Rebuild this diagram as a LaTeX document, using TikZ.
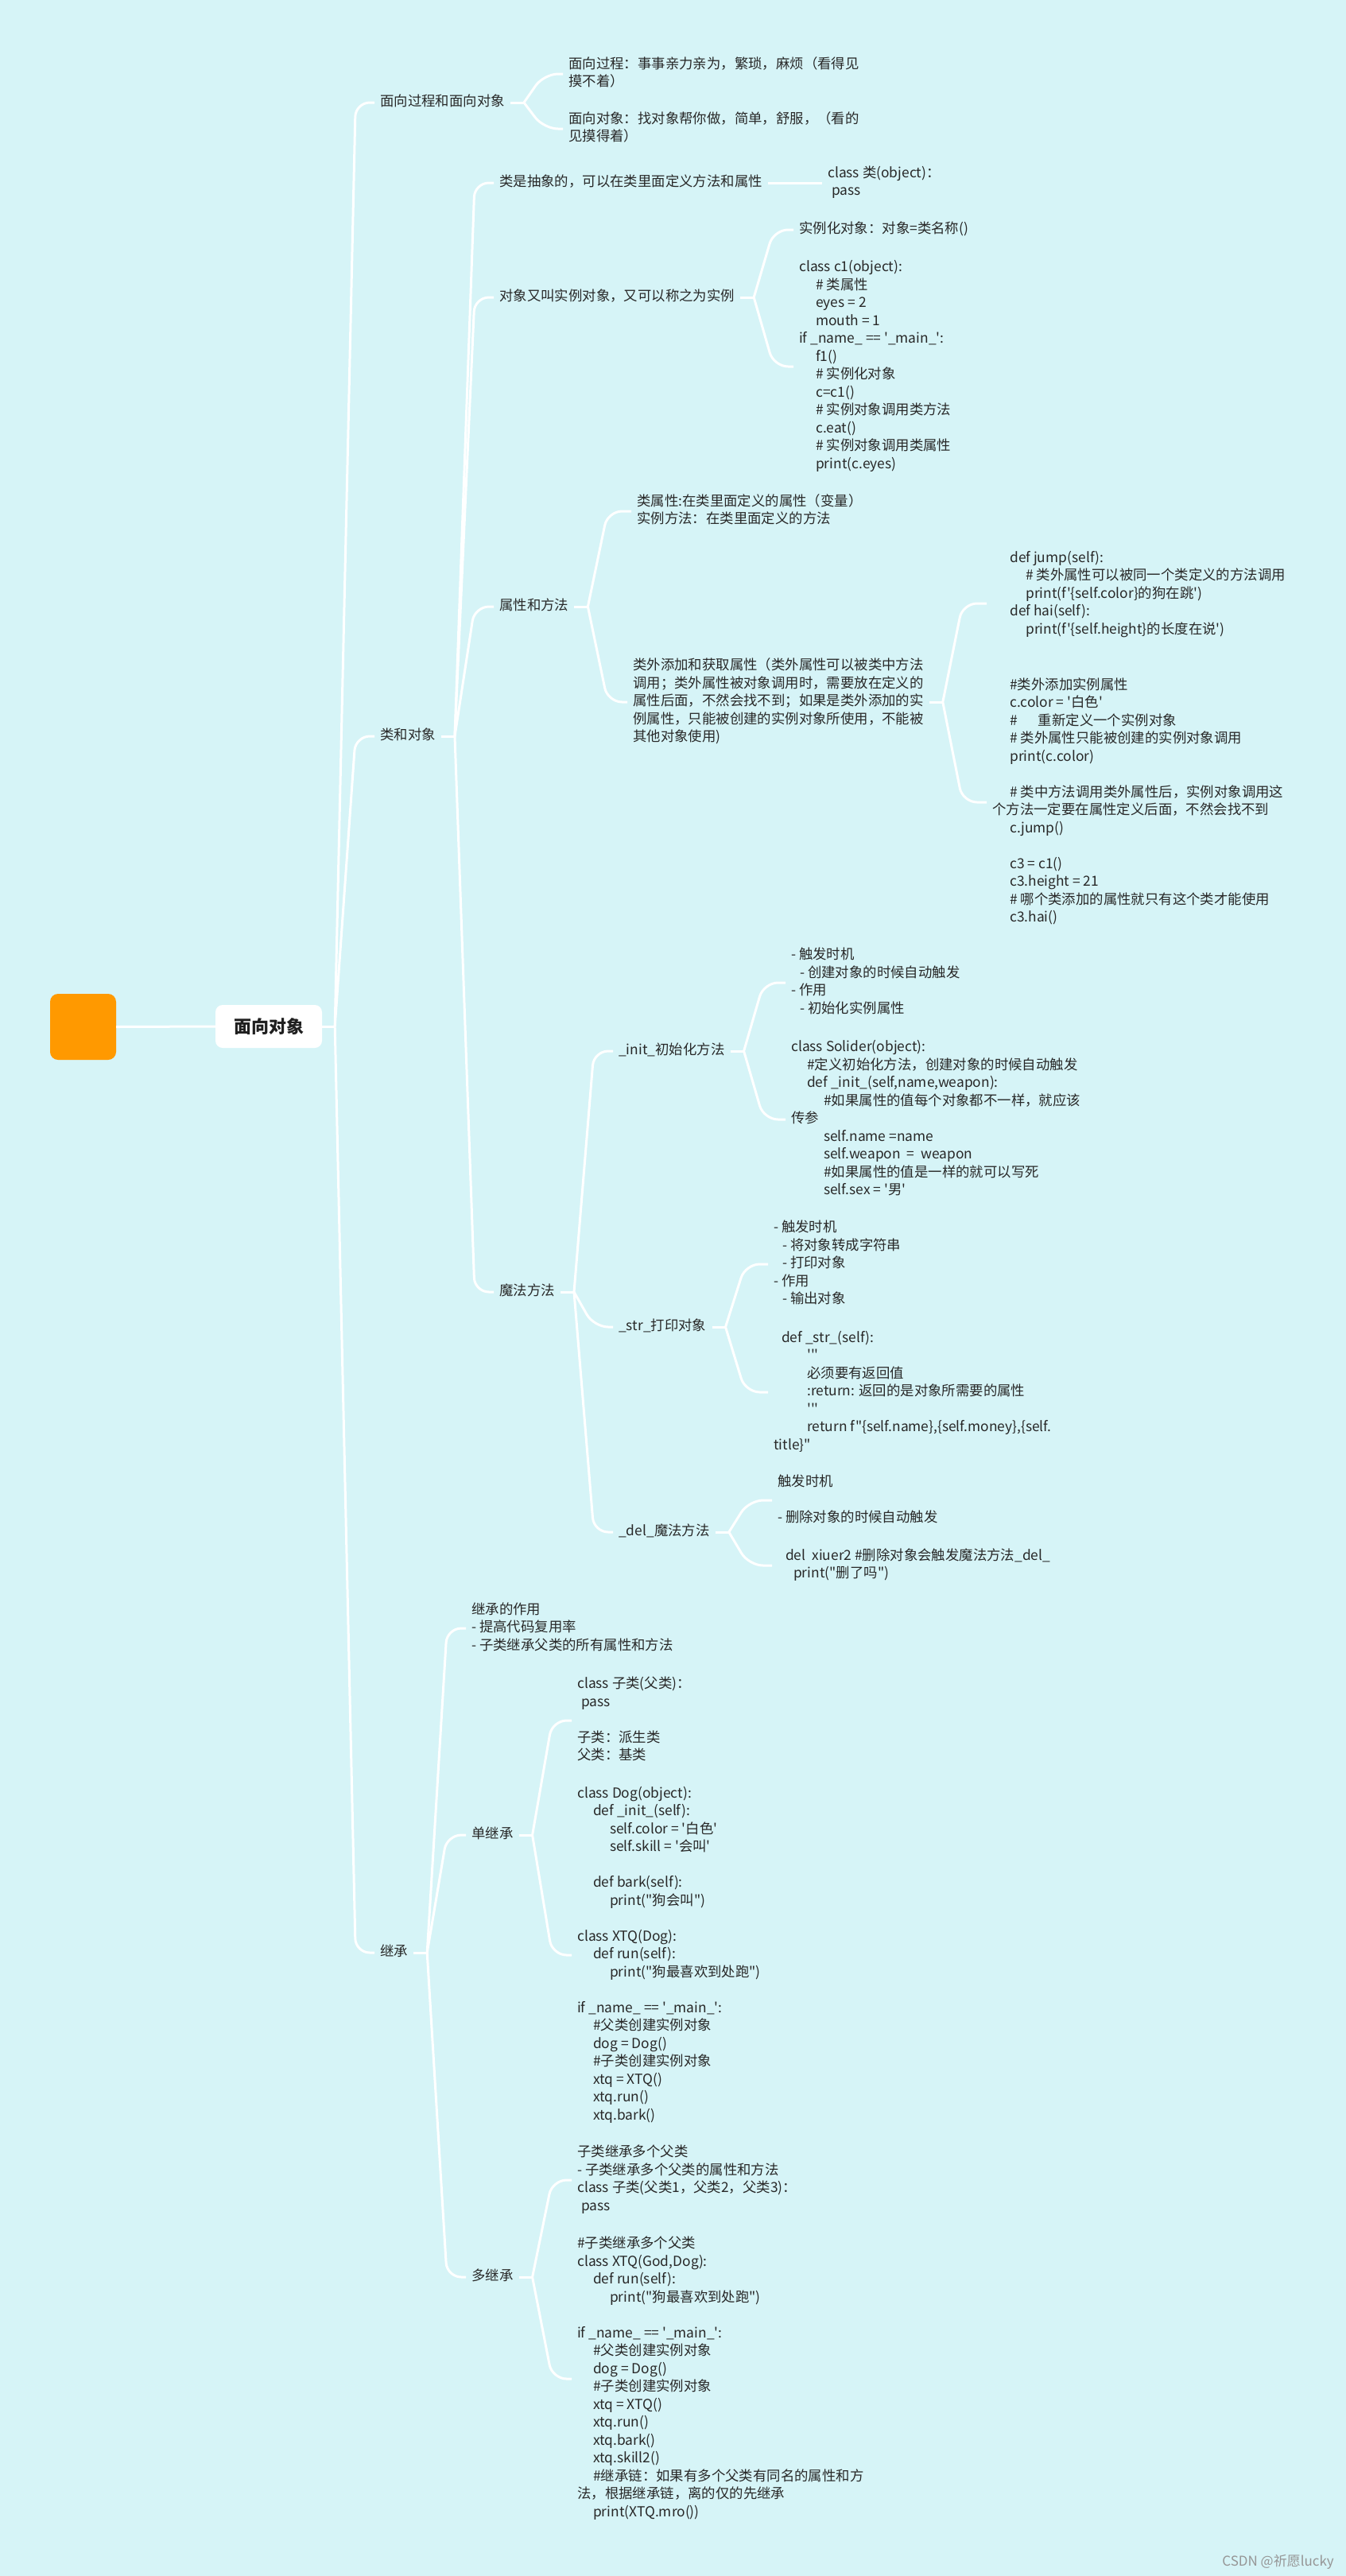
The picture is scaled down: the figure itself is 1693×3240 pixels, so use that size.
\documentclass[tikz,border=0pt]{standalone}
\usepackage{fontspec}
\newfontfamily\cjk{Noto Sans CJK SC}
\definecolor{bgc}{RGB}{214,244,247}
\definecolor{orng}{RGB}{255,153,0}
\definecolor{txc}{RGB}{40,40,40}
\definecolor{wmc}{RGB}{150,150,150}
\newcommand\tb[1]{\begin{tabular}{@{}l@{}}#1\end{tabular}}
\newcommand\ind[1]{\hspace*{#1pt}}
\newcommand\kids[2]{%
  \draw[ln] (#1.east) -- ([xshift=17pt]#1.east) coordinate (#1P);
  \coordinate (#1K) at ([xshift=42pt]#1.east);
  \foreach \c in {#2} {\draw[br] (#1P) -- (#1K |- \c.west) -- (\c.west);}
}
\begin{document}
\begin{tikzpicture}[x=1pt,y=-1pt,
  tx/.style={anchor=west, inner xsep=7pt, inner ysep=0pt, text=txc, font=\cjk\fontsize{17.4}{22.5}\selectfont},
  ln/.style={draw=white, line width=3pt},
  br/.style={ln, rounded corners=18pt}]
\fill[bgc] (0,0) rectangle (1693,3240);
\useasboundingbox (0,0) rectangle (1693,3240);

% root
\node[fill=orng, rounded corners=10pt, minimum width=83pt, minimum height=83pt, inner sep=0pt] (sq) at (104.5,1291.5) {};
\node[fill=white, rounded corners=9pt, minimum width=134pt, minimum height=54pt, inner sep=0pt, text=black!88, font=\cjk\bfseries\fontsize{22}{26}\selectfont] (ct) at (338,1291) {面向对象};
\draw[ln] (sq.east) -- (ct.west);

% level 1
\node[tx] (a1) at (471,129) {\tb{面向过程和面向对象}};
\node[tx] (a2) at (471,926) {\tb{类和对象}};
\node[tx] (a3) at (471,2456) {\tb{继承}};

% under a1
\node[tx] (b1) at (708,93) {\tb{面向过程：事事亲力亲为，繁琐，麻烦（看得见\\摸不着）}};
\node[tx] (b2) at (708,162) {\tb{面向对象：找对象帮你做，简单，舒服，（看的\\见摸得着）}};

% under a2
\node[tx] (b3) at (621,230) {\tb{类是抽象的，可以在类里面定义方法和属性}};
\node[tx] (b4) at (621,374) {\tb{对象又叫实例对象，又可以称之为实例}};
\node[tx] (b5) at (621,763) {\tb{属性和方法}};
\node[tx] (b6) at (621,1625) {\tb{魔法方法}};

\node[tx] (c1) at (1034,230) {\tb{class 类(object)：\\\ind{5}pass}};
\node[tx] (c2) at (998,289) {\tb{实例化对象：对象=类名称()}};
\node[tx] (c3) at (998,461) {\tb{class c1(object):\\
\ind{21}\# 类属性\\
\ind{21}eyes = 2\\
\ind{21}mouth = 1\\
if \_name\_ == '\_main\_':\\
\ind{21}f1()\\
\ind{21}\# 实例化对象\\
\ind{21}c=c1()\\
\ind{21}\# 实例对象调用类方法\\
\ind{21}c.eat()\\
\ind{21}\# 实例对象调用类属性\\
\ind{21}print(c.eyes)}};

\node[tx] (c4) at (794,643) {\tb{类属性:在类里面定义的属性（变量）\\实例方法：在类里面定义的方法}};
\node[tx] (c5) at (789,883) {\tb{类外添加和获取属性（类外属性可以被类中方法\\
调用；类外属性被对象调用时，需要放在定义的\\
属性后面，不然会找不到；如果是类外添加的实\\
例属性，只能被创建的实例对象所使用，不能被\\
其他对象使用)}};

\node[tx] (d1) at (1241,759) {\tb{\ind{22}def jump(self):\\
\ind{42}\# 类外属性可以被同一个类定义的方法调用\\
\ind{42}print(f'\{self.color\}的狗在跳')\\
\ind{22}def hai(self):\\
\ind{42}print(f'\{self.height\}的长度在说')\\ \\}};
\node[tx] (d2) at (1241,1009) {\tb{\ind{22}\#类外添加实例属性\\
\ind{22}c.color = '白色'\\
\ind{22}\#\ind{26}重新定义一个实例对象\\
\ind{22}\# 类外属性只能被创建的实例对象调用\\
\ind{22}print(c.color)\\
\\
\ind{22}\# 类中方法调用类外属性后，实例对象调用这\\
个方法一定要在属性定义后面，不然会找不到\\
\ind{22}c.jump()\\
\\
\ind{22}c3 = c1()\\
\ind{22}c3.height = 21\\
\ind{22}\# 哪个类添加的属性就只有这个类才能使用\\
\ind{22}c3.hai()}};

% magic methods
\node[tx] (c6) at (771,1322) {\tb{\_init\_初始化方法}};
\node[tx] (c7) at (771,1669) {\tb{\_str\_打印对象}};
\node[tx] (c8) at (771,1927) {\tb{\_del\_魔法方法}};

\node[tx] (d3) at (988,1236) {\tb{- 触发时机\\\ind{11}- 创建对象的时候自动触发\\- 作用\\\ind{11}- 初始化实例属性}};
\node[tx] (d4) at (988,1408) {\tb{class Solider(object):\\
\ind{20}\#定义初始化方法，创建对象的时候自动触发\\
\ind{20}def \_init\_(self,name,weapon):\\
\ind{41}\#如果属性的值每个对象都不一样，就应该\\
传参\\
\ind{41}self.name =name\\
\ind{41}self.weapon~~=~~weapon\\
\ind{41}\#如果属性的值是一样的就可以写死\\
\ind{41}self.sex = '男'}};

\node[tx] (d5) at (966,1590) {\tb{- 触发时机\\\ind{11}- 将对象转成字符串\\\ind{11}- 打印对象\\- 作用\\\ind{11}- 输出对象}};
\node[tx] (d6) at (966,1751) {\tb{\ind{10}def \_str\_(self):\\
\ind{42}'{}'{}'\\
\ind{42}必须要有返回值\\
\ind{42}:return: 返回的是对象所需要的属性\\
\ind{42}'{}'{}'\\
\ind{42}return f"\{self.name\},\{self.money\},\{self.\\
title\}"}};

\node[tx] (d7) at (971,1887) {\tb{触发时机\\ \\- 删除对象的时候自动触发}};
\node[tx] (d8) at (971,1969) {\tb{\ind{10}del~~xiuer2 \#删除对象会触发魔法方法\_del\_\\\ind{20}print("删了吗")}};

% inheritance
\node[tx] (e1) at (586,2048) {\tb{继承的作用\\- 提高代码复用率\\- 子类继承父类的所有属性和方法}};
\node[tx] (e2) at (586,2308) {\tb{单继承}};
\node[tx] (e3) at (586,2864) {\tb{多继承}};

\node[tx] (f1) at (719,2164) {\tb{class 子类(父类)：\\\ind{5}pass\\ \\子类：派生类\\父类：基类}};
\node[tx] (f2) at (719,2459) {\tb{class Dog(object):\\
\ind{20}def \_init\_(self):\\
\ind{41}self.color = '白色'\\
\ind{41}self.skill = '会叫'\\
\\
\ind{20}def bark(self):\\
\ind{41}print("狗会叫")\\
\\
class XTQ(Dog):\\
\ind{20}def run(self):\\
\ind{41}print("狗最喜欢到处跑")\\
\\
if \_name\_ == '\_main\_':\\
\ind{20}\#父类创建实例对象\\
\ind{20}dog = Dog()\\
\ind{20}\#子类创建实例对象\\
\ind{20}xtq = XTQ()\\
\ind{20}xtq.run()\\
\ind{20}xtq.bark()}};

\node[tx] (f3) at (719,2742) {\tb{子类继承多个父类\\- 子类继承多个父类的属性和方法\\class 子类(父类1，父类2，父类3)：\\\ind{5}pass}};
\node[tx] (f4) at (719,2992) {\tb{\#子类继承多个父类\\
class XTQ(God,Dog):\\
\ind{20}def run(self):\\
\ind{41}print("狗最喜欢到处跑")\\
\\
if \_name\_ == '\_main\_':\\
\ind{20}\#父类创建实例对象\\
\ind{20}dog = Dog()\\
\ind{20}\#子类创建实例对象\\
\ind{20}xtq = XTQ()\\
\ind{20}xtq.run()\\
\ind{20}xtq.bark()\\
\ind{20}xtq.skill2()\\
\ind{20}\#继承链：如果有多个父类有同名的属性和方\\
法，根据继承链，离的仅的先继承\\
\ind{20}print(XTQ.mro())}};

% watermark
\node[anchor=east, inner sep=0pt, text=wmc, font=\cjk\fontsize{17}{20}\selectfont] (wm) at (1678,3222) {CSDN @祈愿lucky};

% connectors
\draw[ln] (ct.east) -- ([xshift=16pt]ct.east) coordinate (ctP);
\coordinate (ctK) at ([xshift=42pt]ct.east);
\foreach \c in {a1,a2,a3} {\draw[br] (ctP) -- (ctK |- \c.west) -- (\c.west);}
\kids{a1}{b1,b2}
\kids{a2}{b3,b4,b5,b6}
\kids{b3}{c1}
\kids{b4}{c2,c3}
\kids{b5}{c4,c5}
\kids{c5}{d1,d2}
\kids{b6}{c6,c7,c8}
\kids{c6}{d3,d4}
\kids{c7}{d5,d6}
\kids{c8}{d7,d8}
\kids{a3}{e1,e2,e3}
\kids{e2}{f1,f2}
\kids{e3}{f3,f4}
\end{tikzpicture}
\end{document}
